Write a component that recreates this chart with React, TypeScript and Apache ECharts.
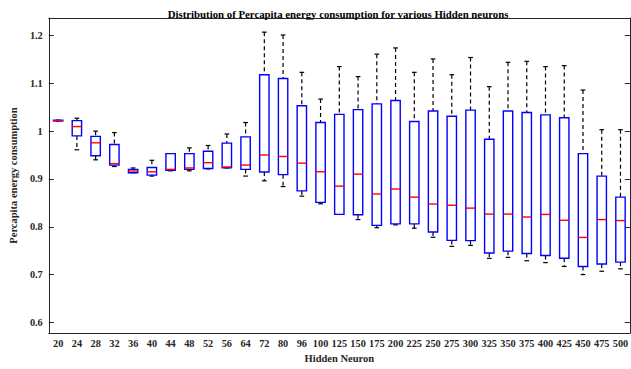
import React, { useEffect, useRef } from "react";
import * as echarts from "echarts";

const categories = ["20","24","28","32","36","40","44","48","52","56","64","72","80","96","100","125","150","175","200","225","250","275","300","325","350","375","400","425","450","475","500"];
const lowerWhisker = [1.021,0.961,0.940,0.926,0.913,0.906,0.917,0.917,0.921,0.923,0.906,0.896,0.884,0.864,0.848,0.826,0.815,0.798,0.804,0.797,0.778,0.759,0.761,0.734,0.736,0.729,0.725,0.717,0.700,0.707,0.712];
const q1Values = [1.0213,0.990,0.9485,0.929,0.913,0.908,0.918,0.920,0.922,0.9234,0.920,0.9146,0.909,0.875,0.851,0.826,0.825,0.803,0.806,0.806,0.789,0.7715,0.771,0.745,0.749,0.744,0.740,0.734,0.717,0.722,0.726];
const medianValues = [1.022,1.0095,0.9756,0.932,0.9166,0.915,0.920,0.923,0.934,0.925,0.929,0.950,0.947,0.933,0.915,0.885,0.910,0.8685,0.879,0.862,0.8475,0.845,0.839,0.8265,0.8265,0.8204,0.8258,0.8136,0.7777,0.815,0.813];
const q3Values = [1.0228,1.022,0.989,0.972,0.920,0.924,0.953,0.953,0.958,0.975,0.988,1.118,1.110,1.053,1.018,1.035,1.045,1.057,1.064,1.020,1.042,1.031,1.044,0.983,1.042,1.039,1.034,1.028,0.953,0.906,0.862];
const upperWhisker = [1.023,1.027,1.000,0.997,0.923,0.939,0.953,0.965,0.970,0.994,1.018,1.207,1.201,1.123,1.067,1.135,1.114,1.161,1.174,1.123,1.151,1.118,1.154,1.093,1.144,1.146,1.135,1.137,1.086,1.003,1.003];
const yTicks = [0.6, 0.7, 0.8, 0.9, 1.0, 1.1, 1.2];

const FONT = "Liberation Serif";
const AXIS_COLOR = "#262626";

export default function App() {
  const ref = useRef<HTMLDivElement>(null);
  useEffect(() => {
    if (!ref.current) return;
    const chart = echarts.init(ref.current, null, { renderer: "svg" });
    const data = categories.map((_, i) => [i, lowerWhisker[i], q1Values[i], medianValues[i], q3Values[i], upperWhisker[i]]);
    const yFmt = (v: number) => (Math.abs(v - 1) < 1e-9 ? "1" : String(Math.round(v * 10) / 10));
    chart.setOption({
      animation: false,
      backgroundColor: "#ffffff",
      title: {
        text: "Distribution of Percapita energy consumption for various Hidden neurons",
        left: 333,
        textAlign: "center",
        top: 3,
        textStyle: { fontFamily: FONT, fontWeight: "bold", fontSize: 10.8, color: "#000" },
      },
      grid: { left: 36, right: 1, top: 18, bottom: 27 },
      xAxis: [
        {
          type: "category",
          data: categories,
          position: "bottom",
          name: "Hidden Neuron",
          nameLocation: "middle",
          nameGap: 15,
          nameTextStyle: { fontFamily: FONT, fontWeight: "bold", fontSize: 10.5, color: AXIS_COLOR },
          axisLine: { lineStyle: { color: AXIS_COLOR, width: 1 } },
          axisTick: { inside: true, alignWithLabel: true, length: 5, interval: 0, lineStyle: { color: AXIS_COLOR } },
          axisLabel: { interval: 0, margin: 5, fontFamily: FONT, fontWeight: "bold", fontSize: 10.3, color: AXIS_COLOR },
          splitLine: { show: false },
        },
        {
          type: "category",
          data: categories,
          position: "top",
          axisLine: { lineStyle: { color: AXIS_COLOR, width: 1 } },
          axisTick: { inside: true, alignWithLabel: true, length: 5, interval: 0, lineStyle: { color: AXIS_COLOR } },
          axisLabel: { show: false },
          splitLine: { show: false },
        },
      ],
      yAxis: [
        {
          type: "value",
          min: 0.5776,
          max: 1.2366,
          position: "left",
          name: "Percapita energy consumption",
          nameLocation: "middle",
          nameGap: 20,
          nameTextStyle: { fontFamily: FONT, fontWeight: "bold", fontSize: 10.5, color: AXIS_COLOR },
          axisLine: { show: true, lineStyle: { color: AXIS_COLOR, width: 1 } },
          axisTick: { show: true, inside: true, length: 5, customValues: yTicks, lineStyle: { color: AXIS_COLOR } },
          axisLabel: { customValues: yTicks, margin: 6, formatter: yFmt, fontFamily: FONT, fontWeight: "bold", fontSize: 10.3, color: AXIS_COLOR },
          splitLine: { show: false },
        },
        {
          type: "value",
          min: 0.5776,
          max: 1.2366,
          position: "right",
          axisLine: { show: true, lineStyle: { color: AXIS_COLOR, width: 1 } },
          axisTick: { show: true, inside: true, length: 5, customValues: yTicks, lineStyle: { color: AXIS_COLOR } },
          axisLabel: { show: false },
          splitLine: { show: false },
        },
      ],
      series: [
        {
          type: "custom",
          xAxisIndex: 0,
          yAxisIndex: 0,
          data,
          encode: { x: 0, y: [1, 2, 3, 4, 5] },
          renderItem: (params: any, api: any) => {
            const xi = api.value(0);
            const lo = api.coord([xi, api.value(1)]);
            const q1 = api.coord([xi, api.value(2)]);
            const med = api.coord([xi, api.value(3)]);
            const q3 = api.coord([xi, api.value(4)]);
            const hi = api.coord([xi, api.value(5)]);
            const band = api.size([1, 0])[0];
            const bw = band * 0.5;
            const cw = bw * 0.5;
            const cx = lo[0];
            const dash = { stroke: "#000", lineWidth: 1.2, lineDash: [4, 3] };
            const solid = { stroke: "#000", lineWidth: 1.2 };
            return {
              type: "group",
              children: [
                { type: "line", shape: { x1: cx, y1: hi[1], x2: cx, y2: q3[1] }, style: dash },
                { type: "line", shape: { x1: cx, y1: q1[1], x2: cx, y2: lo[1] }, style: dash },
                { type: "line", shape: { x1: cx - cw / 2, y1: hi[1], x2: cx + cw / 2, y2: hi[1] }, style: solid },
                { type: "line", shape: { x1: cx - cw / 2, y1: lo[1], x2: cx + cw / 2, y2: lo[1] }, style: solid },
                {
                  type: "rect",
                  shape: { x: cx - bw / 2, y: q3[1], width: bw, height: Math.max(q1[1] - q3[1], 0.5) },
                  style: { stroke: "#0000ff", fill: "#ffffff", lineWidth: 1.4 },
                },
                { type: "line", shape: { x1: cx - bw / 2, y1: med[1], x2: cx + bw / 2, y2: med[1] }, style: { stroke: "#ff0000", lineWidth: 1.4 } },
              ],
            };
          },
        },
      ],
    });
    return () => chart.dispose();
  }, []);
  return <div ref={ref} style={{ position: "absolute", left: 0, top: 0, width: 631, height: 369 }} />;
}
